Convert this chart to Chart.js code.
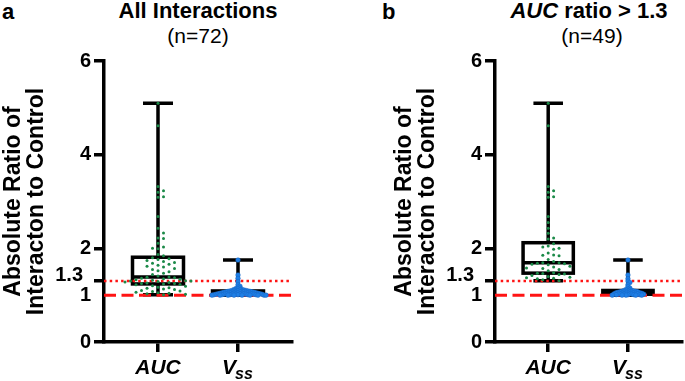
<!DOCTYPE html>
<html><head><meta charset="utf-8">
<script src="https://cdn.jsdelivr.net/npm/chart.js@4/dist/chart.umd.min.js"></script>
<style>
html,body{margin:0;padding:0;background:#fff;width:685px;height:381px;overflow:hidden;font-family:"Liberation Sans",Arial,sans-serif;}
.lbl{position:absolute;font-weight:bold;white-space:nowrap;color:#000;line-height:1;}
.sub{position:absolute;font-weight:normal;white-space:nowrap;color:#000;line-height:1;}
.c{position:absolute;top:0;height:381px;}
</style></head><body>
<div class="lbl" style="left:2px;top:1px;font-size:22px;">a</div>
<div class="lbl" style="left:382px;top:1px;font-size:22px;">b</div>
<div class="lbl" style="left:198px;top:0px;font-size:22px;transform:translateX(-50%);">All Interactions</div>
<div class="sub" style="left:198px;top:25px;font-size:21px;transform:translateX(-50%);">(n=72)</div>
<div class="lbl" style="left:589px;top:0px;font-size:22px;transform:translateX(-50%);"><i>AUC</i> ratio &gt; 1.3</div>
<div class="sub" style="left:592px;top:25px;font-size:21px;transform:translateX(-50%);">(n=49)</div>
<div class="c" style="left:0;width:310px;"><canvas id="ca"></canvas></div>
<div class="c" style="left:391px;width:294px;"><canvas id="cb"></canvas></div>
<script>
// ---------- data ----------
const categories = ['AUC', 'Vss'];
const yTickValues = [0, 1, 1.3, 2, 4, 6];
const yTitle = ['Absolute Ratio of', 'Interacton to Control'];
const refDotted = 1.3;
const refDashed = 1.0;

// box stats: [min, q1, median, q3, max]
const boxAucAll = [1.01, 1.24, 1.39, 1.81, 5.1];
const boxVssAll = [1.00, 1.02, 1.05, 1.09, 1.75];
const boxAucSel = [1.31, 1.47, 1.69, 2.12, 5.1];
const boxVssSel = [1.00, 1.02, 1.05, 1.10, 1.75];

const aucAll = [5.1, 4.62, 3.32, 3.23, 3.2, 3.1, 3.09, 2.68, 2.43, 2.33, 2.22, 2.21, 2.11, 2.03, 2.0, 1.99, 1.87, 1.84,
  1.80, 1.78, 1.76, 1.74, 1.72, 1.70, 1.68, 1.66, 1.64, 1.62, 1.60, 1.57, 1.55, 1.52, 1.50, 1.47, 1.44, 1.41,
  1.39, 1.38, 1.37, 1.36, 1.35, 1.34, 1.33, 1.32, 1.31, 1.30, 1.30, 1.29, 1.28, 1.27, 1.26, 1.25, 1.25, 1.24,
  1.23, 1.22, 1.20, 1.19, 1.17, 1.16, 1.15, 1.13, 1.12, 1.10, 1.09, 1.08, 1.06, 1.05, 1.04, 1.03, 1.02, 1.01];
const vssAll = [1.75, 1.43, 1.36, 1.29, 1.22, 1.19, 1.17, 1.15, 1.14, 1.13, 1.12, 1.12, 1.11, 1.11,
  1.10, 1.10, 1.10, 1.09, 1.09, 1.09, 1.08, 1.08, 1.08, 1.08, 1.07, 1.07, 1.07, 1.07,
  1.06, 1.06, 1.06, 1.06, 1.06, 1.05, 1.05, 1.05, 1.05, 1.05, 1.04, 1.04, 1.04, 1.04, 1.04, 1.04,
  1.03, 1.03, 1.03, 1.03, 1.03, 1.03, 1.02, 1.02, 1.02, 1.02, 1.02, 1.02, 1.02,
  1.01, 1.01, 1.01, 1.01, 1.01, 1.01, 1.00, 1.00, 1.00, 1.00, 1.00, 1.00, 1.00, 1.00, 1.00];
const aucSel = [5.1, 4.62, 3.32, 3.23, 3.2, 3.1, 3.09, 2.68, 2.55, 2.43, 2.32, 2.22,
  2.2, 2.1, 2.05, 2.03, 2.0, 1.98, 1.9, 1.86, 1.85, 1.84, 1.76, 1.72,
  1.69,
  1.69, 1.68, 1.67, 1.66, 1.65, 1.62, 1.6, 1.58, 1.57, 1.55, 1.52, 1.48,
  1.47, 1.46, 1.45, 1.44, 1.42, 1.40, 1.38, 1.37, 1.36, 1.35, 1.33, 1.31];
const vssSel = [1.75, 1.43, 1.35, 1.30, 1.27, 1.22, 1.18, 1.15, 1.13, 1.12, 1.11, 1.10, 1.10, 1.09, 1.09,
  1.08, 1.08, 1.08, 1.07, 1.07, 1.07, 1.06, 1.06, 1.06, 1.05, 1.05, 1.05, 1.05,
  1.04, 1.04, 1.04, 1.04, 1.03, 1.03, 1.03, 1.03, 1.02, 1.02, 1.02, 1.02,
  1.01, 1.01, 1.01, 1.01, 1.00, 1.00, 1.00, 1.00, 1.00];

// ---------- layout / style ----------
const FONT = '"Liberation Sans", Arial, sans-serif';
const GREEN = '#1b8a48';
const BLUE = '#1f7fe6';
const RED = '#ff1414';

// deterministic beeswarm placement (column slots around the category centre)
function swarm(values, xc, rowGap, slot) {
  const sorted = values.slice().sort((a, b) => b - a);
  const placed = [];
  return sorted.map(v => {
    let k = 0;
    for (let n = 0; n < 400; n++) {
      k = n === 0 ? 0 : (n % 2 ? (n + 1) / 2 : -n / 2);
      if (!placed.some(p => p.k === k && Math.abs(p.y - v) < rowGap)) break;
    }
    placed.push({ y: v, k });
    return { x: xc + k * slot, y: v };
  });
}

const boxPlugin = {
  id: 'boxes',
  beforeDatasetsDraw(chart, args, opts) {
    const { ctx } = chart;
    const xs = chart.scales.x, ys = chart.scales.y;
    ctx.save();
    ctx.strokeStyle = '#000';
    ctx.lineWidth = 3.5;
    ctx.lineCap = 'butt';
    opts.stats.forEach((s, i) => {
      const [mn, q1, md, q3, mx] = s.map(v => ys.getPixelForValue(v));
      const xc = xs.getPixelForValue(i);
      const hw = xs.getPixelForValue(i + opts.boxHalf) - xc;
      const cw = xs.getPixelForValue(i + opts.capHalf) - xc;
      ctx.beginPath();
      ctx.moveTo(xc, mx); ctx.lineTo(xc, q3);
      ctx.moveTo(xc, q1); ctx.lineTo(xc, mn);
      ctx.moveTo(xc - cw, mx); ctx.lineTo(xc + cw, mx);
      ctx.moveTo(xc - cw, mn); ctx.lineTo(xc + cw, mn);
      ctx.stroke();
      ctx.fillStyle = '#fff';
      ctx.fillRect(xc - hw, q3, 2 * hw, q1 - q3);
      ctx.strokeRect(xc - hw, q3, 2 * hw, q1 - q3);
      ctx.beginPath();
      ctx.moveTo(xc - hw, md); ctx.lineTo(xc + hw, md);
      ctx.stroke();
    });
    ctx.restore();
  },
  afterDraw(chart, args, opts) {
    const { ctx } = chart;
    const xs = chart.scales.x, ys = chart.scales.y;
    ctx.save();
    ctx.fillStyle = '#000';
    ctx.font = 'bold 20px ' + FONT;
    ctx.textAlign = 'right';
    ctx.textBaseline = 'middle';
    ctx.fillText('1.3', chart.chartArea.left - 21, ys.getPixelForValue(refDotted) - 6);
    const base = chart.chartArea.bottom + 32;
    categories.forEach((c, i) => {
      const xc = xs.getPixelForValue(i);
      ctx.textBaseline = 'alphabetic';
      ctx.textAlign = 'left';
      if (c === 'Vss') {
        ctx.font = 'italic bold 21px ' + FONT;
        const w1 = ctx.measureText('V').width;
        ctx.font = 'italic bold 16px ' + FONT;
        const w2 = ctx.measureText('ss').width;
        const x0 = xc - (w1 + w2) / 2;
        ctx.font = 'italic bold 21px ' + FONT;
        ctx.fillText('V', x0, base);
        ctx.font = 'italic bold 16px ' + FONT;
        ctx.fillText('ss', x0 + w1 - 1, base + 5);
      } else {
        ctx.font = 'italic bold 21px ' + FONT;
        ctx.textAlign = 'center';
        ctx.fillText(c, xc, base);
      }
    });
    ctx.restore();
  }
};

function makeChart(id, w, padRight, xMin, xMax, stats, auc, vss) {
  const pxPerUnit = (w - padRight - 104) / (xMax - xMin);
  const green = swarm(auc, 0, 0.11, 5.5 / pxPerUnit);
  const blue = swarm(vss, 1, 0.035, 2.0 / pxPerUnit);
  const cv = document.getElementById(id);
  cv.width = w; cv.height = 381;
  cv.style.width = w + 'px'; cv.style.height = '381px';
  return new Chart(cv, {
    type: 'scatter',
    data: {
      datasets: [
        { label: 'AUC', data: green, pointRadius: 1.5, pointHoverRadius: 1.5, pointBackgroundColor: GREEN, pointBorderWidth: 0 },
        { label: 'Vss', data: blue, pointRadius: 2.3, pointHoverRadius: 2.3, pointBackgroundColor: BLUE, pointBorderColor: '#1766c4', pointBorderWidth: 0.5 },
        { label: 'ref 1.3', data: [{ x: xMin, y: refDotted }, { x: xMax, y: refDotted }], showLine: true, pointRadius: 0, borderColor: RED, borderWidth: 2.5, borderDash: [2.5, 3.2] },
        { label: 'ref 1', data: [{ x: xMin, y: refDashed }, { x: xMax, y: refDashed }], showLine: true, pointRadius: 0, borderColor: RED, borderWidth: 3, borderDash: [12, 5.5] }
      ]
    },
    options: {
      responsive: false,
      animation: false,
      events: [],
      layout: { padding: { top: 61, left: 0, right: padRight, bottom: 0 } },
      plugins: {
        legend: { display: false },
        tooltip: { enabled: false },
        boxes: { stats, boxHalf: 25.5 / pxPerUnit, capHalf: 15 / pxPerUnit }
      },
      scales: {
        x: {
          type: 'linear', min: xMin, max: xMax,
          afterBuildTicks: s => { s.ticks = categories.map((c, i) => ({ value: i })); },
          afterFit: s => { s.height = 39; },
          border: { color: '#000', width: 3.5 },
          grid: { drawOnChartArea: false, drawTicks: true, tickLength: 10, color: '#000', lineWidth: 3.5 },
          ticks: { callback: () => '', autoSkip: false }
        },
        y: {
          min: 0, max: 6,
          afterBuildTicks: s => { s.ticks = yTickValues.map(v => ({ value: v })); },
          afterFit: s => { s.width = 104; },
          border: { color: '#000', width: 3.5 },
          grid: {
            drawOnChartArea: false, drawTicks: true, tickLength: 10, lineWidth: 3.5,
            color: c => (c.tick && c.tick.value === 1) ? 'rgba(0,0,0,0)' : '#000'
          },
          ticks: {
            autoSkip: false, padding: 3, color: '#000',
            font: { family: FONT, size: 20, weight: 'bold' },
            callback: v => (v === refDotted ? '' : String(v))
          },
          title: {
            display: true, text: yTitle, color: '#000',
            font: { family: FONT, size: 23, weight: 'bold', lineHeight: 1.0 },
            padding: { top: 2, bottom: 0 }
          }
        }
      }
    },
    plugins: [boxPlugin]
  });
}

makeChart('ca', 310, 18, -0.675, 1.675, [boxAucAll, boxVssAll], aucAll, vssAll);
makeChart('cb', 294, 0, -0.667, 1.68, [boxAucSel, boxVssSel], aucSel, vssSel);
</script>
</body></html>
